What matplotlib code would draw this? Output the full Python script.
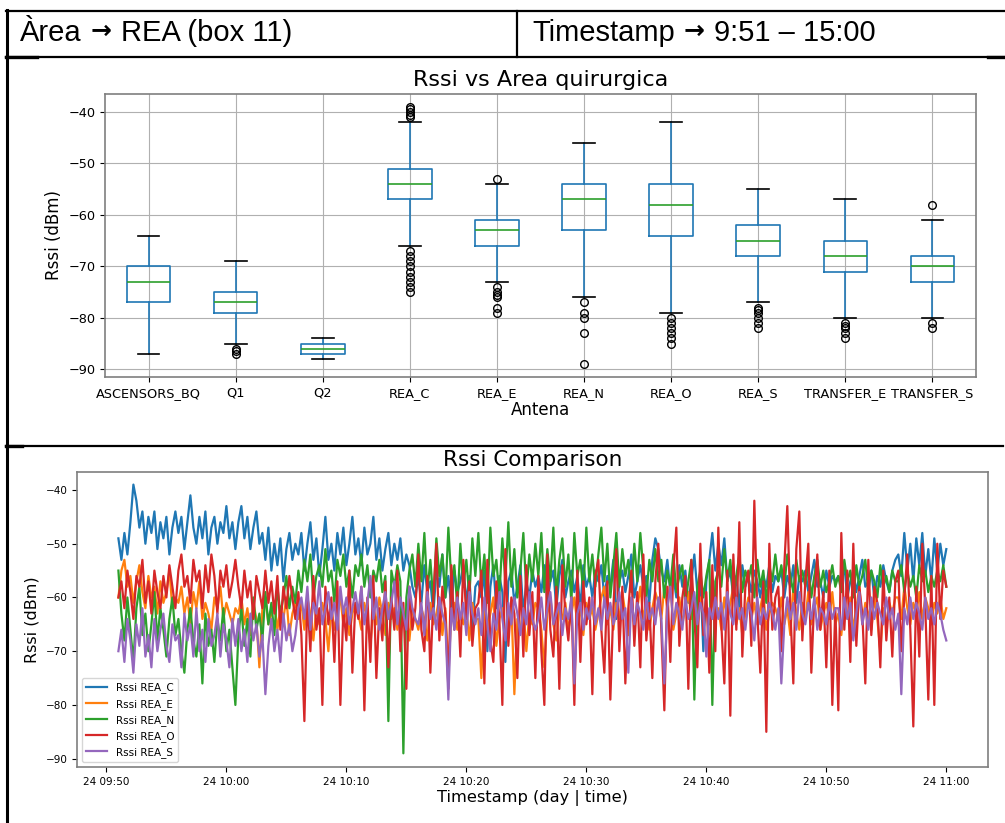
import matplotlib
matplotlib.use('Agg')
import matplotlib.pyplot as plt
import matplotlib.dates as mdates
from matplotlib.lines import Line2D
import pandas as pd

W, H = 1005, 823

# ---- header row ----
header_left = ["Àrea", "\u2192", "REA (box 11)"]
header_right = ["Timestamp", "\u2192", "9:51 \u2013 15:00"]

# ---- box plot stats ----
antenas = ["ASCENSORS_BQ", "Q1", "Q2", "REA_C", "REA_E", "REA_N", "REA_O",
           "REA_S", "TRANSFER_E", "TRANSFER_S"]
whislo = [-87, -85, -88, -66, -73, -76, -79, -77, -80, -80]
q1 = [-77, -79, -87, -57, -66, -63, -64, -68, -71, -73]
med = [-73, -77, -86, -54, -63, -57, -58, -65, -68, -70]
q3 = [-70, -75, -85, -51, -61, -54, -54, -62, -65, -68]
whishi = [-64, -69, -84, -42, -54, -46, -42, -55, -57, -61]
fliers = [
    [],
    [-86, -86.5, -87],
    [],
    [-39, -39.5, -40, -40.5, -41, -67, -68, -69, -70, -71, -72, -73, -74, -75],
    [-53, -74, -75, -75.5, -76, -78, -79],
    [-77, -79, -80, -83, -89],
    [-80, -81, -82, -83, -84, -85],
    [-78, -78.5, -79, -80, -81, -82],
    [-81, -81.5, -82, -83, -84],
    [-58, -81, -82],
]

# ---- time series, one sample every 15 s from 09:51 to 11:00 ----
t_start = "2021-02-24 09:51:00"
t_end = "2021-02-24 11:00:00"

rea_c = [
    -49, -53, -48, -52, -46, -39, -42, -47, -44, -50, -45, -48, -44, -51, -46, -49, -45, -52, -47, -44,
    -48, -45, -51, -46, -41, -47, -50, -45, -49, -44, -52, -47, -45, -50, -46, -48, -43, -49, -46, -51,
    -46, -43, -49, -45, -51, -47, -44, -50, -48, -53, -47, -55, -50, -54, -49, -57, -51, -48, -53, -50,
    -52, -48, -55, -50, -46, -53, -49, -56, -51, -45, -53, -50, -55, -48, -52, -47, -54, -50, -45, -52,
    -49, -54, -47, -52, -50, -45, -53, -49, -55, -51, -48, -54, -50, -53, -49, -55, -52, -54, -58, -60,
    -56, -61, -54, -59, -57, -63, -55, -58, -52, -60, -56, -62, -55, -59, -57, -54, -61, -56, -66, -58,
    -57, -60, -55, -70, -58, -54, -62, -56, -59, -72, -57, -55, -61, -58, -54, -63, -57, -60, -55, -58,
    -56, -59, -54, -61, -57, -55, -62, -56, -53, -60, -57, -55, -59, -56, -62, -54, -58, -56, -60, -55,
    -57, -54, -60, -56, -58, -53, -64, -57, -55, -59, -56, -52, -60, -57, -54, -58, -56, -61, -53, -49,
    -51, -55, -57, -53, -59, -56, -60, -54, -58, -55, -61, -57, -52, -59, -56, -70, -57, -53, -48, -55,
    -50, -54, -49, -57, -55, -60, -56, -62, -54, -58, -56, -59, -55, -57, -60, -56, -58, -54, -59, -56,
    -57, -55, -60, -56, -58, -54, -61, -56, -57, -55, -59, -56, -53, -58, -57, -60, -55, -58, -56, -57,
    -56, -58, -54, -60, -57, -55, -59, -56, -53, -58, -57, -55, -60, -56, -58, -54, -57, -59, -55, -53,
    -52, -56, -48, -55, -50, -57, -49, -54, -48, -56, -51, -57, -49, -55, -50, -54, -51,
]
rea_e = [
    -60, -55, -53, -58, -56, -61, -57, -54, -59, -62, -56, -60, -58, -63, -57, -61, -59, -55, -62, -60,
    -61, -58, -63, -60, -65, -59, -62, -57, -64, -61, -63, -66, -60, -62, -58, -64, -61, -63, -65, -62,
    -63, -60, -65, -62, -67, -61, -64, -73, -62, -60, -65, -63, -61, -66, -62, -64, -60, -67, -63, -61,
    -64, -61, -66, -60, -63, -68, -62, -65, -61, -64, -70, -62, -66, -63, -60, -65, -62, -67, -63, -61,
    -63, -66, -61, -64, -69, -62, -65, -60, -63, -67, -61, -64, -62, -66, -60, -65, -63, -68, -62, -64,
    -66, -62, -64, -68, -61, -65, -63, -60, -67, -62, -73, -64, -61, -66, -63, -65, -62, -68, -61, -64,
    -64, -75, -62, -66, -63, -60, -69, -64, -62, -67, -65, -61, -78, -64, -66, -62, -70, -63, -65, -61,
    -62, -66, -73, -63, -60, -65, -68, -62, -64, -61, -66, -63, -60, -65, -62, -67, -61, -64, -62, -66,
    -63, -60, -58, -65, -62, -66, -61, -64, -59, -63, -67, -60, -65, -62, -58, -64, -61, -66, -62, -59,
    -61, -64, -58, -62, -57, -66, -63, -60, -65, -62, -59, -64, -61, -66, -60, -63, -62, -65, -60, -64,
    -62, -66, -60, -64, -61, -58, -65, -62, -67, -63, -60, -64, -61, -65, -62, -59, -66, -63, -61, -62,
    -64, -60, -65, -62, -67, -58, -63, -66, -61, -64, -59, -65, -62, -60, -66, -63, -61, -64, -59, -65,
    -63, -67, -61, -64, -60, -66, -62, -58, -65, -61, -63, -66, -60, -64, -70, -62, -65, -61, -63, -60,
    -60, -64, -58, -62, -65, -61, -63, -59, -64, -60, -62, -65, -61, -63, -60, -64, -62,
]
rea_n = [
    -55, -63, -68, -60, -66, -72, -62, -58, -67, -63, -70, -65, -59, -68, -62, -66, -71, -64, -60, -67,
    -64, -70, -74, -66, -62, -68, -71, -65, -76, -63, -69, -66, -72, -64, -68, -62, -70, -66, -73, -80,
    -67, -62, -69, -64, -71, -60, -66, -63, -68, -59, -65, -61, -67, -58, -63, -60, -56, -62, -58, -61,
    -55, -59, -53, -57, -52, -60, -56, -54, -58, -51, -57, -55, -61, -53, -56, -52, -58, -55, -60, -54,
    -56, -52, -58, -54, -60, -55, -57, -53, -59, -56, -83, -55, -58, -54, -57, -89, -60, -55, -52, -58,
    -50, -57, -48, -59, -53, -61, -49, -56, -52, -60, -47, -57, -54, -62, -50, -58, -53, -60, -49, -56,
    -48, -58, -52, -61, -47, -56, -53, -60, -49, -57, -46, -58, -51, -60, -55, -48, -59, -52, -57, -50,
    -56, -48, -59, -51, -57, -47, -60, -53, -49, -58, -52, -61, -48, -56, -53, -59, -47, -57, -52, -58,
    -52, -47, -57, -50, -60, -54, -48, -58, -51, -56, -53, -59, -50, -57, -48, -55, -60, -53, -57, -51,
    -57, -53, -60, -55, -58, -52, -59, -56, -54, -61, -57, -53, -79, -58, -55, -60, -56, -53, -80, -57,
    -55, -58, -51, -57, -53, -60, -56, -52, -59, -55, -57, -54, -60, -53, -58, -55, -61, -54, -57, -52,
    -57, -54, -58, -52, -56, -59, -53, -57, -55, -58, -54, -60, -56, -53, -58, -55, -59, -57, -54, -58,
    -56, -59, -53, -57, -55, -60, -54, -58, -56, -53, -59, -55, -57, -60, -54, -58, -56, -59, -55, -57,
    -57, -54, -59, -55, -58, -56, -60, -54, -57, -55, -59, -56, -58, -55, -57, -54, -58,
]
rea_o = [
    -60, -57, -62, -55, -59, -64, -56, -58, -53, -61, -57, -63, -55, -59, -62, -56, -60, -54, -58, -62,
    -55, -52, -58, -56, -61, -53, -57, -55, -62, -54, -59, -52, -56, -63, -55, -58, -54, -60, -57, -53,
    -58, -62, -55, -60, -57, -64, -56, -59, -62, -55, -61, -57, -63, -56, -66, -58, -62, -56, -60, -64,
    -59, -67, -83, -60, -70, -56, -66, -62, -80, -58, -65, -60, -72, -57, -80, -62, -68, -55, -74, -61,
    -64, -58, -81, -60, -72, -56, -75, -62, -68, -57, -73, -60, -66, -55, -70, -61, -77, -58, -66, -62,
    -52, -66, -70, -56, -74, -60, -50, -68, -58, -63, -77, -54, -66, -59, -71, -53, -64, -57, -69, -62,
    -61, -55, -76, -53, -68, -72, -57, -64, -80, -51, -69, -60, -63, -75, -56, -71, -54, -67, -59, -75,
    -56, -70, -80, -52, -66, -71, -58, -77, -54, -63, -68, -60, -80, -55, -72, -57, -65, -60, -78, -56,
    -53, -66, -74, -57, -79, -62, -51, -70, -58, -76, -62, -55, -69, -59, -73, -52, -68, -61, -75, -57,
    -50, -66, -81, -58, -72, -55, -47, -69, -60, -56, -77, -53, -64, -73, -50, -67, -59, -74, -54, -70,
    -47, -65, -76, -55, -82, -52, -66, -46, -71, -58, -55, -69, -42, -63, -74, -57, -85, -50, -66, -60,
    -58, -70, -54, -43, -62, -76, -51, -44, -68, -57, -50, -74, -60, -52, -66, -59, -73, -55, -80, -62,
    -81, -48, -66, -55, -72, -50, -69, -58, -63, -76, -53, -67, -58, -61, -73, -55, -68, -60, -71, -57,
    -55, -70, -60, -52, -66, -84, -58, -71, -50, -62, -79, -56, -80, -50, -64, -55, -58,
]
rea_s = [
    -70, -66, -72, -64, -68, -74, -65, -69, -62, -71, -67, -73, -64, -70, -66, -63, -69, -72, -65, -68,
    -67, -73, -63, -68, -65, -71, -62, -70, -66, -72, -64, -69, -67, -63, -71, -65, -68, -73, -64, -69,
    -64, -70, -66, -72, -63, -68, -65, -71, -67, -78, -69, -64, -70, -66, -72, -63, -68, -65, -70, -67,
    -62, -60, -64, -58, -66, -61, -63, -57, -65, -62, -59, -64, -61, -66, -58, -63, -60, -65, -62, -59,
    -63, -58, -65, -61, -56, -64, -60, -66, -62, -59, -64, -61, -57, -65, -60, -63, -66, -58, -62, -64,
    -65, -61, -67, -59, -64, -62, -66, -60, -63, -65, -79, -62, -66, -60, -64, -61, -67, -59, -63, -65,
    -62, -67, -60, -65, -70, -63, -66, -59, -64, -68, -61, -65, -60, -63, -67, -62, -65, -59, -64, -66,
    -64, -60, -66, -62, -59, -65, -63, -61, -67, -62, -64, -60, -76, -63, -61, -66, -62, -64, -60, -65,
    -62, -66, -60, -64, -61, -65, -63, -59, -64, -62, -74, -60, -65, -61, -63, -66, -60, -64, -62, -65,
    -60, -64, -76, -62, -58, -65, -61, -63, -66, -60, -64, -62, -59, -65, -61, -63, -71, -62, -64, -60,
    -64, -61, -66, -59, -63, -65, -60, -64, -62, -66, -61, -63, -68, -60, -65, -62, -64, -61, -63, -66,
    -62, -76, -65, -60, -64, -61, -66, -59, -63, -65, -61, -64, -60, -66, -62, -63, -65, -61, -64, -62,
    -62, -66, -60, -64, -61, -68, -63, -59, -65, -62, -66, -60, -64, -61, -63, -65, -60, -64, -62, -66,
    -63, -78, -62, -65, -60, -64, -61, -63, -66, -60, -64, -62, -65, -61, -63, -66, -68,
]
series = {"REA_C": rea_c, "REA_E": rea_e, "REA_N": rea_n,
          "REA_O": rea_o, "REA_S": rea_s}

fig = plt.figure(figsize=(W / 100, H / 100), dpi=100)
fig.patch.set_facecolor('white')


def px(x, y):
    return x / W, 1 - y / H


def hline(y, x0, x1, lw=1.6):
    (a, b), (c, d) = px(x0, y), px(x1, y)
    fig.add_artist(Line2D([a, c], [b, d], color='black', lw=lw))


def vline(x, y0, y1, lw=1.6):
    (a, b), (c, d) = px(x, y0), px(x, y1)
    fig.add_artist(Line2D([a, c], [b, d], color='black', lw=lw))


# document table borders
hline(11, 6, 1005)
hline(57, 6, 1005)
hline(57, 6, 37, lw=2.4)
hline(57, 988, 1005, lw=2.4)
vline(7, 10, 823, lw=2.2)
vline(517, 11, 57)
hline(446, 6, 1003)
hline(446, 6, 22, lw=2.4)

renderer = fig.canvas.get_renderer()
tfont = dict(fontsize=21, family=['Liberation Sans', 'DejaVu Sans'])
afont = dict(fontsize=18, family='DejaVu Sans', fontweight='bold')


def header(x, parts, base=41, gap=9):
    for i, s in enumerate(parts):
        kw = afont if i == 1 else tfont
        b = base - 3 if i == 1 else base
        t = fig.text(*px(x, b), s, va='baseline', ha='left', **kw)
        x = t.get_window_extent(renderer).x1 + gap


header(20, header_left)
header(532, header_right)

spine_col = '#7f7f7f'

# ---- top: box plot ----
ax1 = fig.add_axes([105 / W, 1 - 377 / H, 871 / W, 283 / H])
stats = []
for i, name in enumerate(antenas):
    stats.append(dict(label=name, med=med[i], q1=q1[i], q3=q3[i],
                      whislo=whislo[i], whishi=whishi[i], fliers=fliers[i]))
ax1.bxp(stats, widths=0.5,
        boxprops=dict(color='#1f77b4', lw=1.2),
        whiskerprops=dict(color='#1f77b4', lw=1.2),
        capprops=dict(color='black', lw=1.2),
        medianprops=dict(color='#2ca02c', lw=1.2),
        flierprops=dict(marker='o', markerfacecolor='none', markeredgecolor='black',
                        markersize=5.5, markeredgewidth=1.0))
ax1.set_ylim(-91.5, -36.5)
ax1.set_yticks([-40, -50, -60, -70, -80, -90])
ax1.grid(True, color='#b0b0b0', lw=0.8)
ax1.set_axisbelow(True)
ax1.tick_params(labelsize=9.3)
ax1.set_title('Rssi vs Area quirurgica', fontsize=16, pad=6)
ax1.set_ylabel('Rssi (dBm)', fontsize=12)
ax1.set_xlabel('Antena', fontsize=12, labelpad=1)
for s in ax1.spines.values():
    s.set_color(spine_col)
    s.set_linewidth(1.2)

# ---- bottom: time series ----
ax2 = fig.add_axes([77 / W, 1 - 767.3 / H, 910.7 / W, 295.6 / H])
colors = ['#1f77b4', '#ff7f0e', '#2ca02c', '#d62728', '#9467bd']
for (name, vals), c in zip(series.items(), colors):
    times = pd.date_range(t_start, t_end, periods=len(vals))
    ax2.plot(times, vals, color=c, lw=1.6, label='Rssi ' + name)
ax2.set_ylim(-91.6, -36.6)
ax2.set_yticks([-40, -50, -60, -70, -80, -90])
ax2.set_xlim(pd.Timestamp(t_start) - pd.Timedelta(minutes=3.45),
             pd.Timestamp(t_end) + pd.Timedelta(minutes=3.45))
ax2.xaxis.set_major_locator(mdates.MinuteLocator(byminute=range(0, 60, 10)))
ax2.xaxis.set_major_formatter(mdates.DateFormatter('%d %H:%M'))
ax2.tick_params(labelsize=7.5)
ax2.set_title('Rssi Comparison', fontsize=15.5, pad=4)
ax2.set_ylabel('Rssi (dBm)', fontsize=11.5)
ax2.set_xlabel('Timestamp (day | time)', fontsize=11.7, labelpad=2)
ax2.legend(loc='lower left', fontsize=7.5, framealpha=0.8)
for s in ax2.spines.values():
    s.set_color(spine_col)
    s.set_linewidth(1.2)

fig.savefig('out.png', dpi=100, facecolor='white')
